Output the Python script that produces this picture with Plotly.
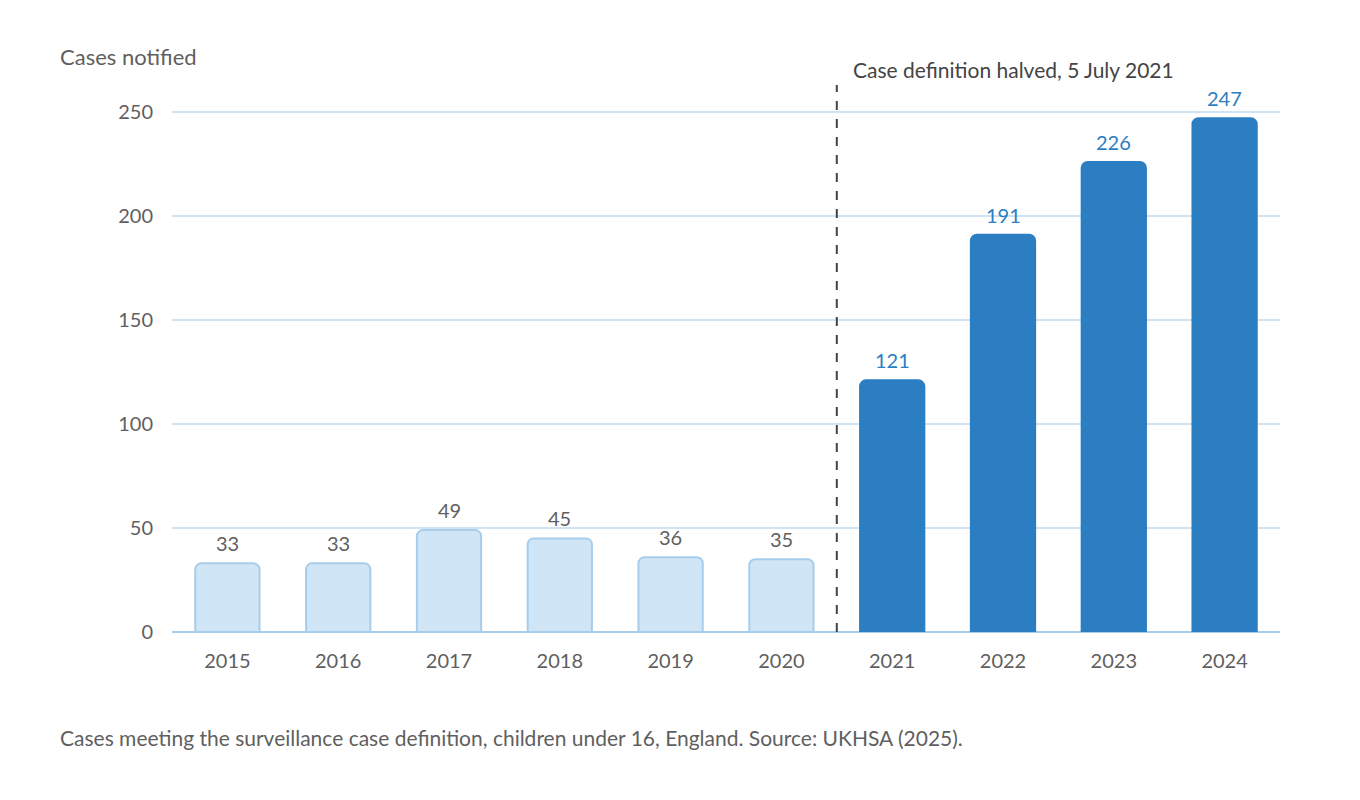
import plotly.graph_objects as go

years = ["2015", "2016", "2017", "2018", "2019", "2020", "2021", "2022", "2023", "2024"]
cases = [33, 33, 49, 45, 36, 35, 121, 191, 226, 247]
# bars before the July 2021 change are drawn pale
old_definition = [True] * 6 + [False] * 4

light_fill, light_edge = "#d0e5f5", "#a7cdeb"
dark_blue = "#2b7ec1"
grey_text = "#5f5f5f"

fill = [light_fill if o else dark_blue for o in old_definition]
edge = [light_edge if o else dark_blue for o in old_definition]
label_col = [grey_text if o else dark_blue for o in old_definition]

fig = go.Figure(go.Bar(
    x=years,
    y=cases,
    width=0.58,
    marker=dict(color=fill, line=dict(color=edge, width=2), cornerradius=6),
    hoverinfo="x+y",
))

# value labels sit a little higher than plotly's "outside" text
for i, (v, col) in enumerate(zip(cases, label_col)):
    fig.add_annotation(
        x=i, y=v, text=str(v), showarrow=False,
        yanchor="bottom", yshift=6, font=dict(size=20, color=col),
    )

fig.add_shape(
    type="line", xref="x", yref="paper",
    x0=5.5, x1=5.5, y0=0, y1=1,
    line=dict(color="#444444", width=2, dash="dash"),
)
fig.add_annotation(
    text="Case definition halved, 5 July 2021",
    xref="x", yref="paper", x=5.5, y=1.0,
    xanchor="left", yanchor="middle", xshift=14, yshift=16,
    showarrow=False, font=dict(size=21, color="#444444"),
)
fig.add_annotation(
    text="Cases notified", xref="paper", yref="paper",
    x=-0.103, y=1.053, xanchor="left", yanchor="middle",
    showarrow=False, font=dict(size=22, color=grey_text),
)
fig.add_annotation(
    text="Cases meeting the surveillance case definition, children under 16, England. Source: UKHSA (2025).",
    xref="paper", yref="paper", x=-0.103, y=-0.192,
    xanchor="left", yanchor="middle",
    showarrow=False, font=dict(size=21, color=grey_text),
)

fig.update_layout(
    width=1360, height=800,
    margin=dict(l=164, r=88, t=77, b=176),
    paper_bgcolor="white", plot_bgcolor="white",
    font=dict(family="Lato, 'Open Sans', sans-serif", color=grey_text, size=20),
    showlegend=False,
    bargap=0.42,
)
fig.update_xaxes(
    type="category",
    showgrid=False, showline=False, zeroline=False,
    tickfont=dict(size=20, color=grey_text), ticklabelstandoff=15,
)
fig.update_yaxes(
    range=[0, 263], tickvals=[0, 50, 100, 150, 200, 250],
    showgrid=True, gridcolor="#cfe3f2", gridwidth=1.5,
    zeroline=True, zerolinecolor="#a7cdeb", zerolinewidth=2,
    tickfont=dict(size=20, color=grey_text), ticklabelstandoff=18,
)

fig.write_html("out.html")
